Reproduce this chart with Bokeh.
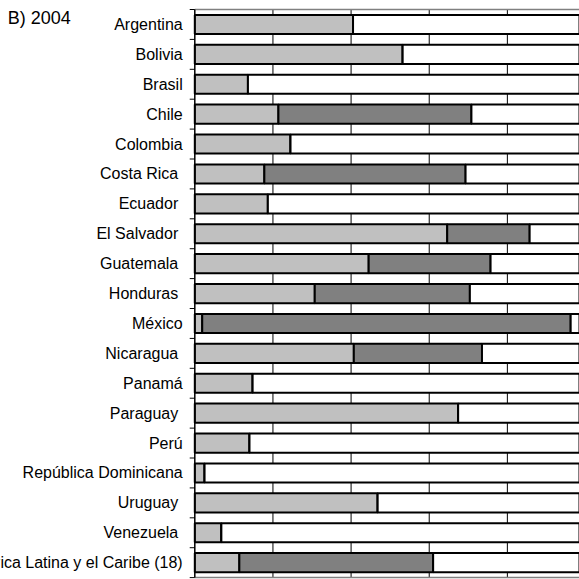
from bokeh.plotting import figure
from bokeh.models import ColumnDataSource, Range1d, LabelSet, Label
from bokeh.core.properties import value
from bokeh.embed import file_html
from bokeh.resources import INLINE

countries = ["Argentina", "Bolivia", "Brasil", "Chile", "Colombia", "Costa Rica ",
             "Ecuador ", "El Salvador ", "Guatemala ", "Honduras ", "México", "Nicaragua ",
             "Panamá", "Paraguay ", "Perú", "República Dominicana", "Uruguay ",
             "Venezuela ", "América Latina y el Caribe (18)"]
light = [40.5, 53.2, 13.6, 21.4, 24.5, 17.8, 18.7, 64.6, 44.5, 30.7,
         1.9, 40.7, 14.8, 67.4, 14.0, 2.5, 46.8, 6.8, 11.4]
dark = [0.0, 0.0, 0.0, 49.4, 0.0, 51.5, 0.0, 21.1, 31.2, 39.7,
        94.3, 32.8, 0.0, 0.0, 0.0, 0.0, 0.0, 0.0, 49.6]
rest = [100 - a - b for a, b in zip(light, dark)]
x_ticks = [0, 20, 40, 60, 80, 100]
title_text = "B) 2004"

n = len(countries)
src = ColumnDataSource(dict(y=list(range(n)), name=countries,
                            light=light, dark=dark, rest=rest))

# frame covers the whole canvas; value 0 sits at 194px, 3.907px per unit
p = figure(width=579, height=579, output_backend="svg", toolbar_location=None,
           x_range=Range1d(-49.73, 98.46), y_range=Range1d(n - 0.437, -0.801),
           min_border_left=0, min_border_right=0, min_border_top=0,
           min_border_bottom=0)
p.title.visible = False
p.xaxis.visible = False
p.yaxis.visible = False
p.xgrid.visible = False
p.ygrid.visible = False
p.outline_line_color = None
p.background_fill_color = "white"
p.border_fill_color = "white"

lo, hi = -0.5, n - 0.5
grid_x = x_ticks[1:-1]
# vertical gridlines inside plot area
p.segment(x0=grid_x, y0=[lo] * len(grid_x), x1=grid_x, y1=[hi] * len(grid_x),
          line_color="black", line_width=1)
# plot-area top and bottom border
p.segment(x0=[x_ticks[0]] * 2, y0=[lo, hi], x1=[x_ticks[-1]] * 2, y1=[lo, hi],
          line_color="#808080", line_width=1.5)

p.hbar_stack(["light", "dark", "rest"], y="y", height=0.64,
             color=["#C0C0C0", "#808080", "#FFFFFF"],
             line_color="black", line_width=2, source=src)

# category axis line and tick marks between categories
bounds = [i - 0.5 for i in range(n + 1)]
p.segment(x0=[x_ticks[0]], y0=[lo], x1=[x_ticks[0]], y1=[hi],
          line_color="black", line_width=1.5)
p.segment(x0=[-1.3] * len(bounds), y0=bounds, x1=[x_ticks[0]] * len(bounds), y1=bounds,
          line_color="black", line_width=1)

labels = LabelSet(x=-3.1, y="y", text="name", source=src, text_align="right",
                  text_baseline="middle", text_font=value("Liberation Sans"),
                  text_font_size=value("16px"), text_color="black")
p.add_layout(labels)

p.add_layout(Label(x=-47.9, y=-0.222, text=title_text, text_align="left",
                   text_baseline="alphabetic", text_font="Liberation Sans",
                   text_font_size="18px", text_color="black"))

open("out.html", "w").write(file_html(p, INLINE))
